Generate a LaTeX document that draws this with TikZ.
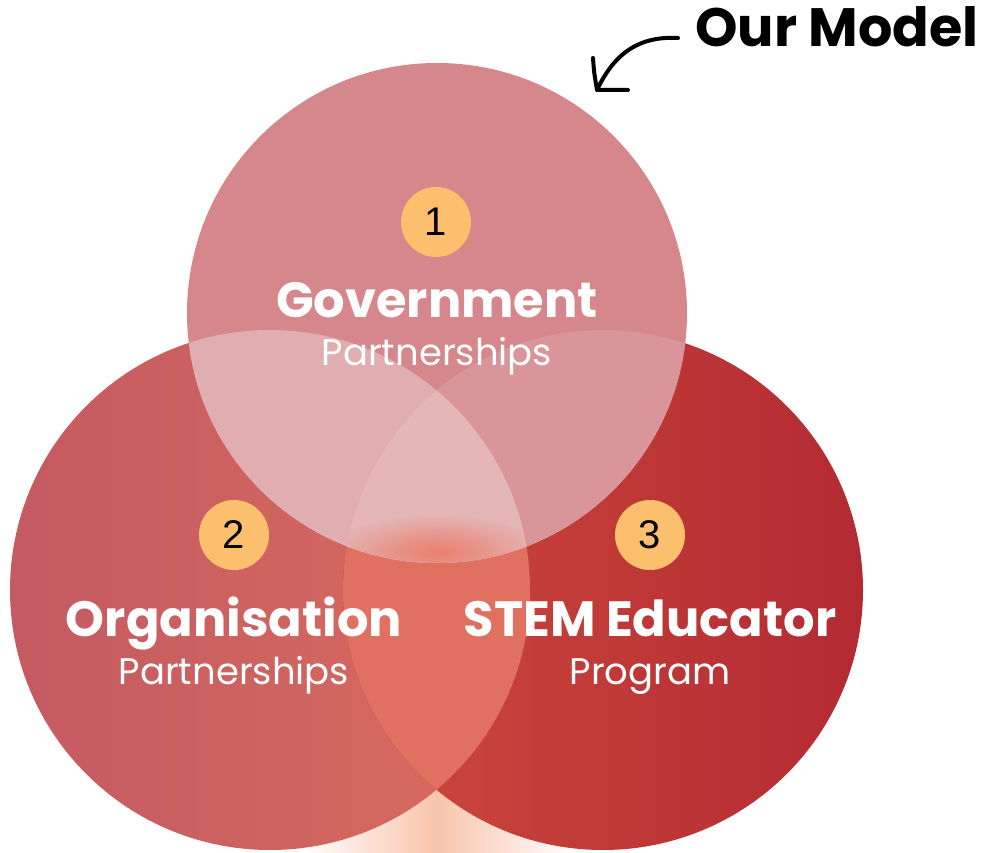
\documentclass[tikz,border=0pt]{standalone}
\usepackage{fontspec}
\setmainfont{Poppins}
\newfontfamily\numfont{Liberation Sans}
\usetikzlibrary{shadings}
\definecolor{cTop}{HTML}{D5878B}
\definecolor{cTopL}{HTML}{E0AEB0}
\definecolor{cTopR}{HTML}{D99599}
\definecolor{cTopLR}{HTML}{E4B6B8}
\definecolor{cLeftA}{HTML}{C45A62}
\definecolor{cLeftB}{HTML}{DA6C5E}
\definecolor{cRightA}{HTML}{CC4A3C}
\definecolor{cRightB}{HTML}{B42A33}
\definecolor{cLR}{HTML}{E07060}
\definecolor{cGlow}{HTML}{E97F6C}
\definecolor{cPeach}{HTML}{F8C4AC}
\definecolor{cNum}{HTML}{FBBF6E}
\tikzset{
  numcirc/.style={circle, fill=cNum, minimum size=70pt, inner sep=0pt, font=\numfont\fontsize{40}{40}\selectfont, text=black},
  title/.style={anchor=base, text=white, font=\bfseries\fontsize{49.5}{54}\selectfont},
  sub/.style={anchor=base, text=white, font=\fontsize{37}{42}\selectfont},
  handarrow/.style={line width=4pt, line cap=round, line join=round, black}
}
\begin{document}
\begin{tikzpicture}[x=1pt,y=1pt]
\useasboundingbox (0,0) rectangle (985,852);
\def\topc{(437,539) circle (250)}
\def\leftc{(270,262) circle (260)}
\def\rightc{(603,262) circle (260)}
% peach glow under circles
\shade[left color=white, right color=cPeach] (300,0) rectangle (437,80);
\shade[left color=cPeach, right color=white] (437,0) rectangle (574,80);
% left circle
\shade[left color=cLeftA, right color=cLeftB] \leftc;
% right circle
\shade[left color=cRightA, right color=cRightB] \rightc;
% left & right overlap
\begin{scope}
  \clip \leftc;
  \fill[cLR] \rightc;
\end{scope}
% top circle
\fill[cTop] \topc;
\begin{scope}
  \clip \leftc;
  \fill[cTopL] \topc;
\end{scope}
\begin{scope}
  \clip \rightc;
  \fill[cTopR] \topc;
\end{scope}
\begin{scope}
  \clip \leftc;
  \clip \rightc;
  \fill[cTopLR] \topc;
  \clip \topc;
  \shade[inner color=cGlow, outer color=cTopLR] (437,300) ellipse (110 and 38);
\end{scope}
% numbers
\node[numcirc] (n1) at (436,630) {1};
\node[numcirc] (n2) at (234,317) {2};
\node[numcirc] (n3) at (650,317) {3};
% labels
\node[title] (gov) at (437,534) {Government};
\node[sub] (govs) at (437,486) {Partnerships};
\node[title] (org) at (234,216) {Organisation};
\node[sub] (orgs) at (234,168) {Partnerships};
\node[title] (stem) at (650,216) {STEM Educator};
\node[sub] (stems) at (650,168) {Program};
% Our Model
\node[anchor=base, text=black, font=\bfseries\fontsize{54}{60}\selectfont] (model) at (837,805) {Our Model};
\coordinate (astart) at (678,814);
\coordinate (atip) at (597,762);
\coordinate (abarb1) at (593,794);
\coordinate (abarb2) at (628,762);
\draw[handarrow] (astart) .. controls (640,816) and (615,800) .. (atip);
\draw[handarrow] (abarb1) .. controls (594,780) .. (atip) -- (abarb2);
\end{tikzpicture}
\end{document}
